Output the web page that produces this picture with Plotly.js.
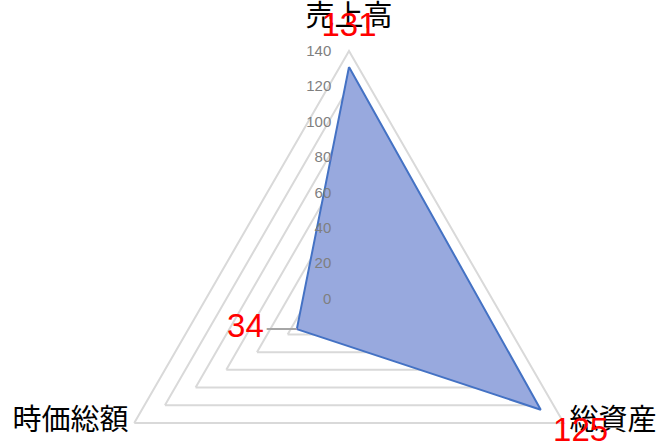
<!DOCTYPE html>
<html>
<head>
<meta charset="utf-8">
<script src="https://cdn.plot.ly/plotly-3.0.1.min.js"></script>
<style>
html,body{margin:0;padding:0;overflow:hidden;background:#fff;}
#chart{width:658px;height:600px;}
</style>
</head>
<body>
<div id="chart"></div>
<script>
const categories = ['売上高', '総資産', '時価総額'];
const values = [131, 125, 34];
const valueLabels = ['131', '125', '34'];
const radialTicks = [0, 20, 40, 60, 80, 100, 120, 140];
const axisMax = 140;

const W = 658, H = 600;
const cx = 349, cy = 299, R = 248;
const rangeMax = 160;
const Rt = R * rangeMax / axisMax;
const labelPad = [22, 26, 0];
const labelPos = ['middle center', 'middle center', 'middle left'];
const catR = [axisMax + 10, axisMax, axisMax];
const catPos = ['top center', 'middle right', 'middle left'];
const catText = categories.map((c, i) => i === 1 ? '\u2009' + c : (i === 2 ? c + '\u2009' : c));

const thetaClosed = categories.concat([categories[0]]);
const rClosed = values.concat([values[0]]);

const traces = [
  {
    type: 'scatterpolar',
    r: rClosed,
    theta: thetaClosed,
    mode: 'lines',
    fill: 'toself',
    fillcolor: 'rgba(152,169,222,1)',
    line: {color: '#4472c4', width: 2},
    hoverinfo: 'skip',
    showlegend: false
  },
  {
    type: 'scatterpolar',
    r: [values[2]],
    theta: [categories[2]],
    mode: 'text',
    text: ['\u2014'],
    textposition: 'middle left',
    textfont: {family: 'Liberation Sans, Arial, sans-serif', size: 30, color: '#a6a6a6'},
    hoverinfo: 'skip',
    showlegend: false
  },
  {
    type: 'scatterpolar',
    r: catR,
    theta: categories,
    mode: 'text',
    text: catText,
    textposition: catPos,
    textfont: {family: 'Noto Sans CJK JP, sans-serif', size: 29, color: '#000000'},
    hoverinfo: 'skip',
    showlegend: false
  },
  {
    type: 'scatterpolar',
    r: values.map((v, i) => v + labelPad[i]),
    theta: categories,
    mode: 'text',
    text: valueLabels.map((t, i) => i === 2 ? t + '\u2003' : t),
    textposition: labelPos,
    textfont: {family: 'Liberation Sans, Arial, sans-serif', size: 33, color: '#ff0000'},
    hoverinfo: 'skip',
    showlegend: false
  }
];

const layout = {
  width: W, height: H,
  margin: {l: 0, r: 0, t: 0, b: 0},
  paper_bgcolor: '#ffffff',
  showlegend: false,
  font: {family: 'Noto Sans CJK JP, sans-serif'},
  polar: {
    domain: {x: [(cx - Rt) / W, (cx + Rt) / W], y: [(H - cy - Rt) / H, (H - cy + Rt) / H]},
    bgcolor: 'rgba(0,0,0,0)',
    gridshape: 'linear',
    radialaxis: {
      range: [0, rangeMax],
      tickvals: radialTicks,
      ticktext: radialTicks.map(t => String(t) + '\u2003'),
      angle: 90,
      tickangle: 90,
      side: 'counterclockwise',
      showline: false,
      ticks: '',
      gridcolor: '#d9d9d9',
      gridwidth: 2,
      tickfont: {family: 'Liberation Sans, Arial, sans-serif', size: 15, color: '#7f7f7f'}
    },
    angularaxis: {
      rotation: 90,
      direction: 'clockwise',
      showgrid: false,
      showline: false,
      showticklabels: false,
      ticks: ''
    }
  }
};

Plotly.newPlot('chart', traces, layout, {staticPlot: true, displayModeBar: false});
</script>
</body>
</html>
